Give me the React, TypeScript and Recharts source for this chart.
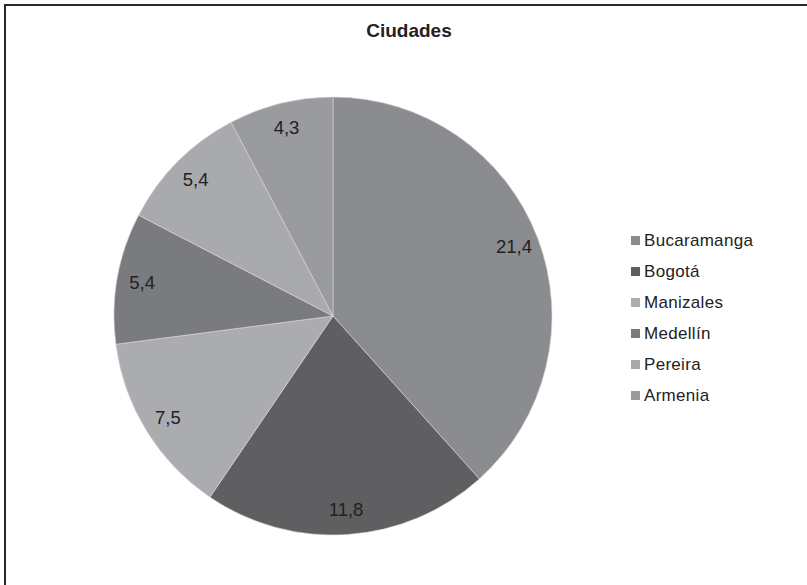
import { PieChart, Pie, Cell, Legend } from 'recharts';

const cities = ['Bucaramanga', 'Bogotá', 'Manizales', 'Medellín', 'Pereira', 'Armenia'];
const shares = [21.4, 11.8, 7.5, 5.4, 5.4, 4.3];
const sliceColors = ['#8b8c8f', '#5f5f61', '#abacaf', '#7a7b7e', '#a9aaad', '#9a9b9e'];

const rows = cities.map((name, i) => ({ name, value: shares[i] }));

const FONT = '"Liberation Sans", Arial, sans-serif';
const RAD = Math.PI / 180;

const fmtComma = (n: number) => n.toFixed(1).replace('.', ',');

// eslint-disable-next-line @typescript-eslint/no-explicit-any
function SliceLabel({ cx, cy, midAngle, outerRadius, value }: any) {
  const r = outerRadius * 0.885;
  const x = cx + r * Math.cos(-midAngle * RAD);
  const y = cy + r * Math.sin(-midAngle * RAD);
  return (
    <text
      x={x}
      y={y}
      textAnchor="middle"
      dominantBaseline="central"
      fontFamily={FONT}
      fontSize={18.5}
      fill="#222"
    >
      {fmtComma(value)}
    </text>
  );
}

function CityLegend() {
  return (
    <div style={{ fontFamily: FONT, fontSize: 17, color: '#222' }}>
      {cities.map((c, i) => (
        <div key={c} style={{ display: 'flex', alignItems: 'center', height: 31 }}>
          <span
            style={{
              display: 'inline-block',
              width: 9,
              height: 9,
              background: sliceColors[i],
              marginRight: 4,
            }}
          />
          <span style={{ letterSpacing: 0.3 }}>{c}</span>
        </div>
      ))}
    </div>
  );
}

export default function App() {
  return (
    <div
      style={{
        position: 'absolute',
        left: 0,
        top: 0,
        width: 807,
        height: 585,
        overflow: 'hidden',
        background: '#fff',
      }}
    >
      <div
        style={{
          position: 'absolute',
          left: 4,
          top: 4,
          width: 820,
          height: 600,
          borderLeft: '2px solid #2a2a2a',
          borderTop: '2px solid #2a2a2a',
        }}
      />
      <div
        style={{
          position: 'absolute',
          left: 409,
          top: 21,
          transform: 'translateX(-50%)',
          fontFamily: FONT,
          fontWeight: 'bold',
          fontSize: 19,
          lineHeight: '20px',
          color: '#222',
          whiteSpace: 'nowrap',
        }}
      >
        Ciudades
      </div>
      <PieChart
        width={807}
        height={585}
        margin={{ top: 0, right: 0, bottom: 0, left: 0 }}
        style={{ position: 'absolute', left: 0, top: 0 }}
      >
        <Pie
          data={rows}
          dataKey="value"
          nameKey="name"
          cx={333}
          cy={316}
          outerRadius={219}
          startAngle={90}
          endAngle={-270}
          stroke="#d8d8d8"
          strokeWidth={0.6}
          label={SliceLabel}
          labelLine={false}
          isAnimationActive={false}
        >
          {rows.map((r, i) => (
            <Cell key={r.name} fill={sliceColors[i]} />
          ))}
        </Pie>
        <Legend
          content={<CityLegend />}
          wrapperStyle={{ position: 'absolute', left: 631, top: 225, width: 170, bottom: 'auto', right: 'auto' }}
        />
      </PieChart>
    </div>
  );
}
